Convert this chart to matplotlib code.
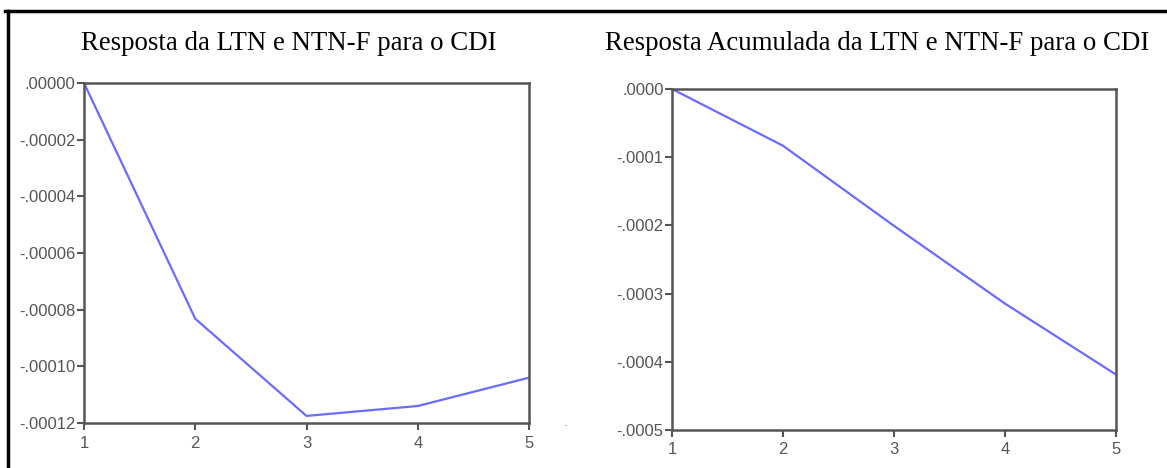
import matplotlib
matplotlib.use("Agg")
import matplotlib.pyplot as plt
from matplotlib.ticker import FuncFormatter
from matplotlib.lines import Line2D

periods = [1, 2, 3, 4, 5]
resposta = [0.0, -0.0000832, -0.0001175, -0.000114, -0.000104]
acumulada = [0.0, -0.0000832, -0.0002007, -0.0003147, -0.0004187]

titulo_esq = "Resposta da LTN e NTN-F para o CDI"
titulo_dir = "Resposta Acumulada da LTN e NTN-F para o CDI"


def fmt(decimals):
    def f(v, pos):
        s = f"{abs(v):.{decimals}f}".lstrip("0")
        return ("-" if v < -1e-12 else "") + s
    return FuncFormatter(f)


def style(ax, ylim, yticks, decimals):
    ax.set_xlim(1, 5)
    ax.set_ylim(*ylim)
    ax.set_xticks(periods)
    ax.set_yticks(yticks)
    ax.yaxis.set_major_formatter(fmt(decimals))
    for sp in ax.spines.values():
        sp.set_color("#555555")
        sp.set_linewidth(1.8)
    ax.tick_params(direction="out", length=5, width=1.5, color="#555555",
                   labelsize=12, labelcolor="#555555")
    ax.tick_params(axis="y", pad=1)
    ax.tick_params(axis="x", pad=4)
    for lab in ax.get_xticklabels() + ax.get_yticklabels():
        lab.set_family("Liberation Sans")


fig = plt.figure(figsize=(11.67, 4.68), dpi=100)

ax1 = fig.add_axes([84 / 1167, 1 - 423 / 468, 445 / 1167, 340 / 468])
ax1.plot(periods, resposta, color="#6b6bff", lw=1.6)
style(ax1, (-0.00012, 0.0), [-0.00012, -0.0001, -0.00008, -0.00006, -0.00004, -0.00002, 0.0], 5)

ax2 = fig.add_axes([672 / 1167, 1 - 430 / 468, 444 / 1167, 341 / 468])
ax2.plot(periods, acumulada, color="#6b6bff", lw=1.6)
style(ax2, (-0.0005, 0.0), [-0.0005, -0.0004, -0.0003, -0.0002, -0.0001, 0.0], 4)

fig.text(289 / 1167, 1 - 44 / 468, titulo_esq, family="Liberation Serif",
         fontsize=19.4, ha="center", va="center")
fig.text(877 / 1167, 1 - 44 / 468, titulo_dir, family="Liberation Serif",
         fontsize=19.4, ha="center", va="center")
fig.text(566 / 1167, 1 - 422 / 468, ".", fontsize=9, color="#777777",
         ha="center", va="center")

# moldura externa (topo e esquerda)
fig.add_artist(Line2D([5 / 1167, 1], [1 - 11 / 468, 1 - 11 / 468],
                      transform=fig.transFigure, color="black", lw=2.5))
fig.add_artist(Line2D([8 / 1167, 8 / 1167], [0, 1 - 11 / 468],
                      transform=fig.transFigure, color="black", lw=2.5))

fig.savefig("out.png", dpi=100)
